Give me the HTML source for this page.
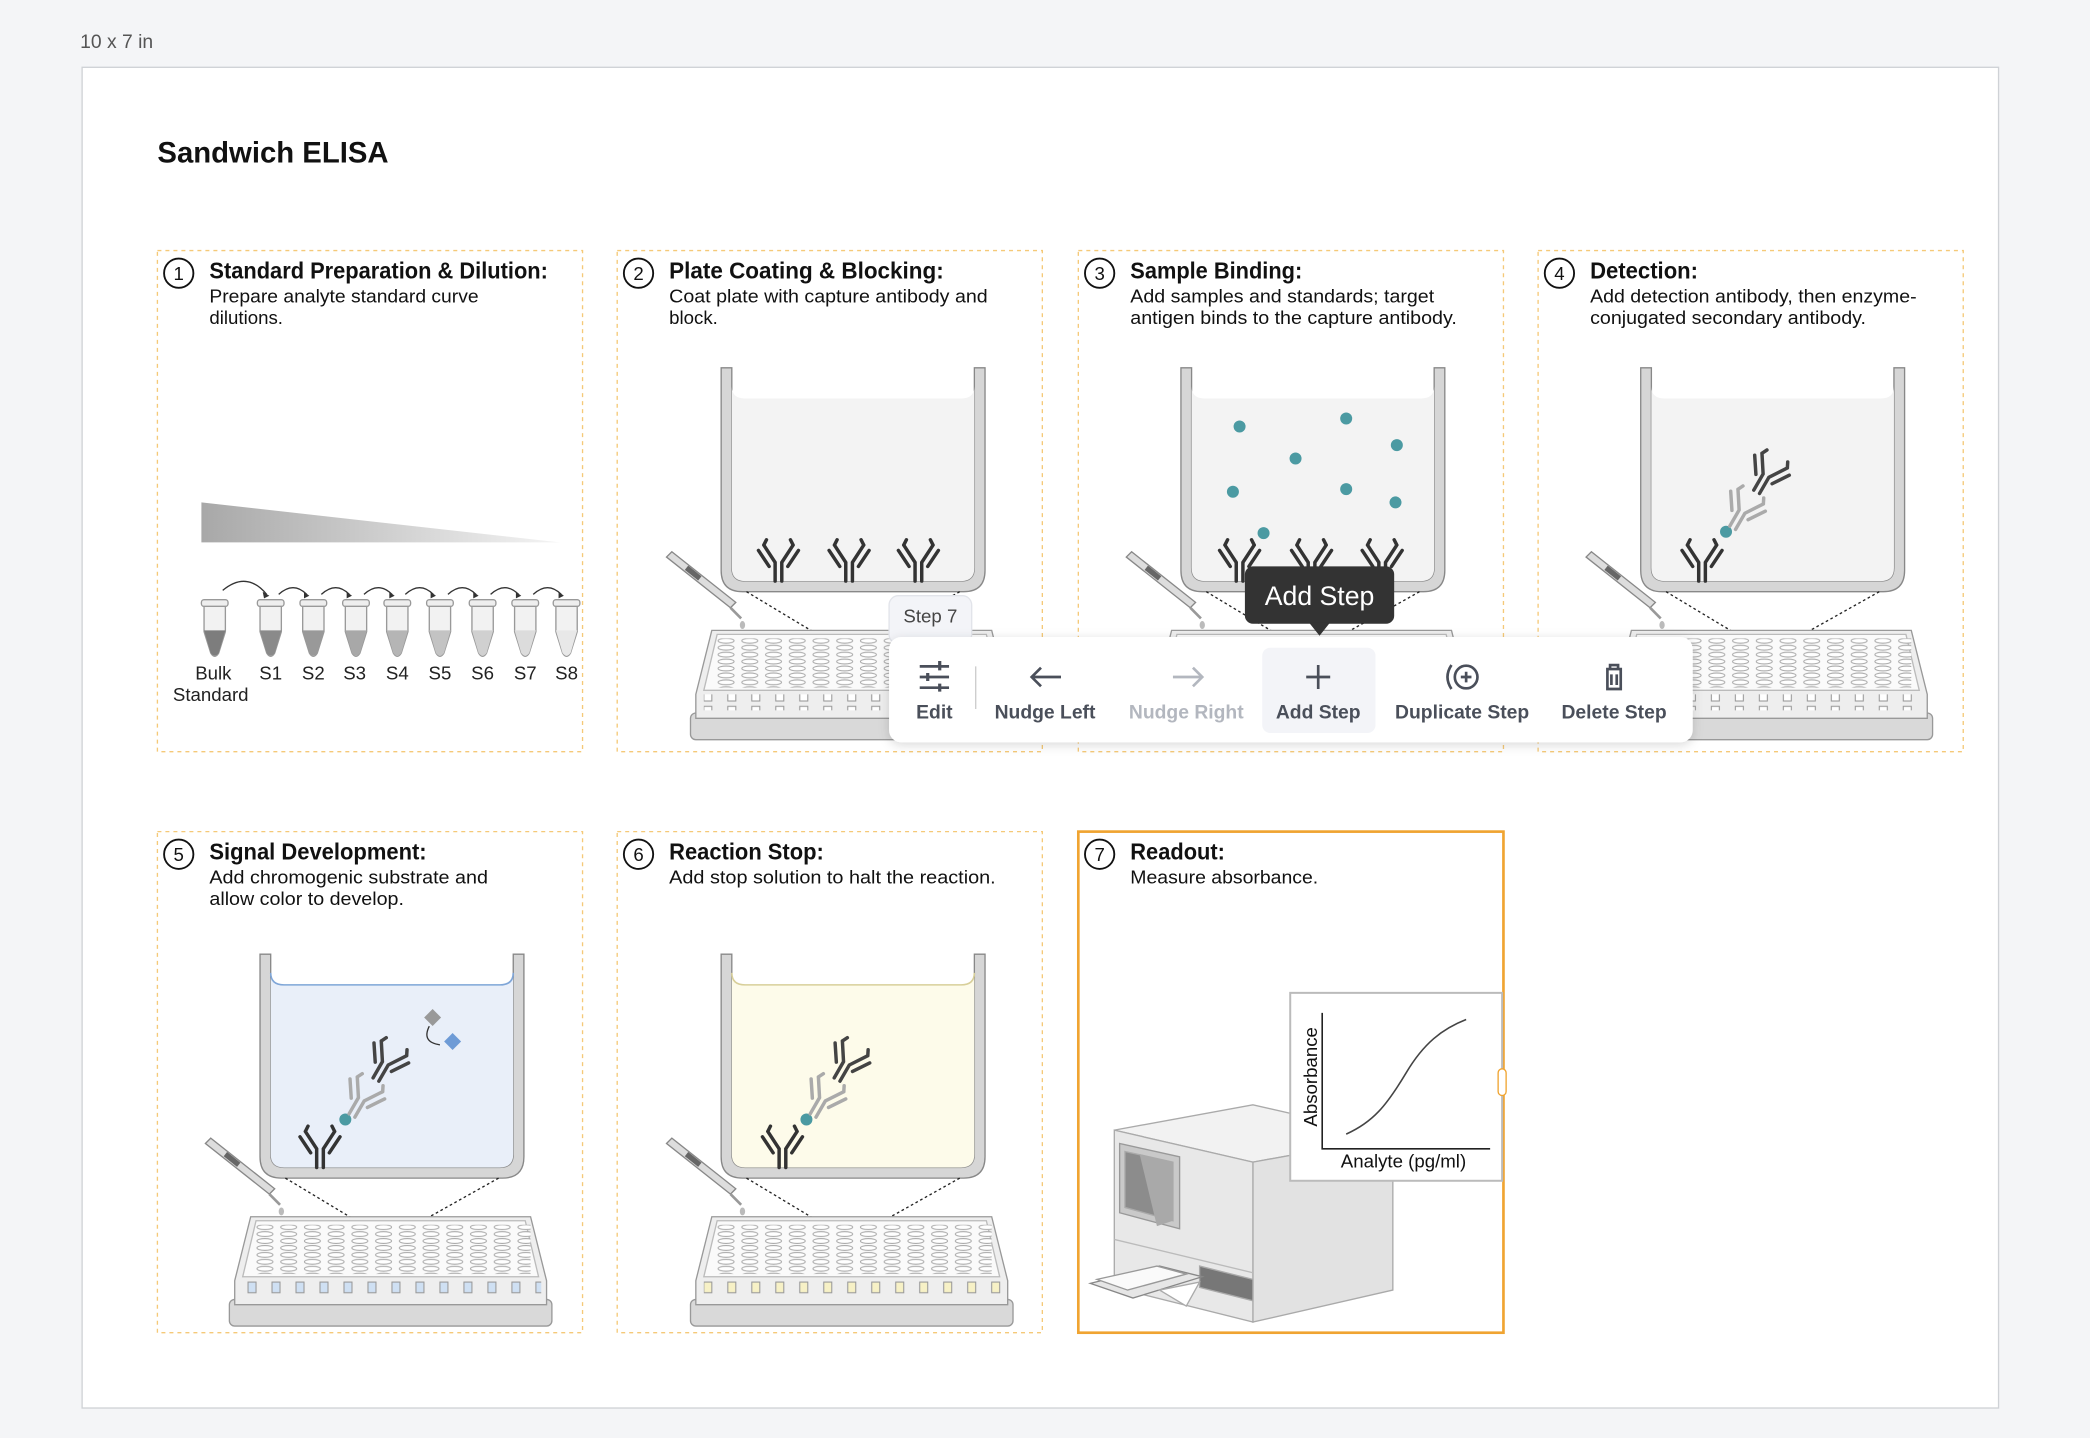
<!DOCTYPE html>
<html><head><meta charset="utf-8"><style>
html,body{margin:0;padding:0;background:#f4f5f7;}
svg{display:block;font-family:"Liberation Sans",sans-serif;}
</style></head><body>
<svg width="2090" height="1438" viewBox="0 0 1568 1079" xmlns="http://www.w3.org/2000/svg">
<defs>
  <pattern id="wells" patternUnits="userSpaceOnUse" x="0" y="0" width="17.8" height="5.2">
    <ellipse cx="8.9" cy="2.6" rx="6" ry="1.8" fill="#fff" stroke="#aaa" stroke-width="0.8"/>
  </pattern>
  <pattern id="sqG" patternUnits="userSpaceOnUse" width="18" height="12"><rect x="6" y="2" width="6" height="8" fill="#fff" stroke="#999" stroke-width="0.8"/></pattern>
  <pattern id="sqB" patternUnits="userSpaceOnUse" width="18" height="12"><rect x="6" y="2" width="6" height="8" fill="#cfe0f3" stroke="#999" stroke-width="0.8"/></pattern>
  <pattern id="sqY" patternUnits="userSpaceOnUse" width="18" height="12"><rect x="6" y="2" width="6" height="8" fill="#f7f1c6" stroke="#999" stroke-width="0.8"/></pattern>
  <linearGradient id="grad" x1="0" x2="1" y1="0" y2="0"><stop offset="0" stop-color="#a8a8a8"/><stop offset="1" stop-color="#f4f4f4"/></linearGradient>
  <symbol id="plate" viewBox="0 0 242 82" overflow="visible">
    <rect x="0" y="62" width="242" height="20" rx="4" fill="#d9d9d9" stroke="#999"/>
    <path d="M16 0 H226 L238 48 V66 H4 V48 Z" fill="#eeeeee" stroke="#999"/>
    <path d="M20 3 H222 L232 45 H10 Z" fill="#fafafa" stroke="#bbb"/>
    <rect x="16" y="6" width="210" height="37" fill="url(#wells)"/>
  </symbol>
  <g id="ab" fill="none" stroke-width="2.6" stroke-linecap="round">
    <path d="M-2.5 0 V-14 L-11 -27 M2.5 0 V-14 L11 -27 M-7 -11 L-15 -23 M7 -11 L15 -23 M-11 -27 L-9 -31 M11 -27 L9 -31"/>
  </g>
  <g id="tube">
    <rect x="-10" y="0" width="20" height="5" rx="2" fill="#eee" stroke="#999"/>
    <path d="M-8 5 V24 L-3 40 Q0 45 3 40 L8 24 V5 Z" fill="#f2f2f2" stroke="#999"/>
  </g>
  <filter id="sh" x="-10%" y="-30%" width="120%" height="160%"><feDropShadow dx="0" dy="2" stdDeviation="4" flood-color="#000" flood-opacity="0.15"/></filter>
</defs>

<text x="60" y="36" font-size="14.5" fill="#555">10 x 7 in</text>
<rect x="61.5" y="50.5" width="1438" height="1006" fill="#fff" stroke="#cfd2d6"/>
<text x="118" y="122" font-size="22" font-weight="bold" fill="#111">Sandwich ELISA</text>

<g fill="none" stroke="#f5c978" stroke-dasharray="3,3" stroke-width="1">
  <rect x="118" y="188" width="319" height="376"/>
  <rect x="463" y="188" width="319" height="376"/>
  <rect x="809" y="188" width="319" height="376"/>
  <rect x="1154" y="188" width="319" height="376"/>
  <rect x="118" y="624" width="319" height="376"/>
  <rect x="463" y="624" width="319" height="376"/>
</g>
<rect x="809" y="624" width="319" height="376" fill="none" stroke="#f0a431" stroke-width="2"/>

<g fill="none" stroke="#111" stroke-width="1.4">
  <circle cx="134" cy="205" r="11"/><circle cx="479" cy="205" r="11"/><circle cx="825" cy="205" r="11"/><circle cx="1170" cy="205" r="11"/>
  <circle cx="134" cy="641" r="11"/><circle cx="479" cy="641" r="11"/><circle cx="825" cy="641" r="11"/>
</g>
<g font-size="14" text-anchor="middle" fill="#111">
  <text x="134" y="210">1</text><text x="479" y="210">2</text><text x="825" y="210">3</text><text x="1170" y="210">4</text>
  <text x="134" y="646">5</text><text x="479" y="646">6</text><text x="825" y="646">7</text>
</g>
<g font-size="17" font-weight="bold" fill="#111">
  <text x="157" y="209" textLength="254" lengthAdjust="spacingAndGlyphs">Standard Preparation &amp; Dilution:</text>
  <text x="502" y="209" textLength="206" lengthAdjust="spacingAndGlyphs">Plate Coating &amp; Blocking:</text>
  <text x="848" y="209" textLength="129" lengthAdjust="spacingAndGlyphs">Sample Binding:</text>
  <text x="1193" y="209" textLength="81" lengthAdjust="spacingAndGlyphs">Detection:</text>
  <text x="157" y="645" textLength="163" lengthAdjust="spacingAndGlyphs">Signal Development:</text>
  <text x="502" y="645" textLength="116" lengthAdjust="spacingAndGlyphs">Reaction Stop:</text>
  <text x="848" y="645" textLength="71" lengthAdjust="spacingAndGlyphs">Readout:</text>
</g>
<g font-size="14" fill="#111">
  <text x="157" y="227" textLength="202" lengthAdjust="spacingAndGlyphs">Prepare analyte standard curve</text><text x="157" y="243">dilutions.</text>
  <text x="502" y="227" textLength="239" lengthAdjust="spacingAndGlyphs">Coat plate with capture antibody and</text><text x="502" y="243">block.</text>
  <text x="848" y="227" textLength="228" lengthAdjust="spacingAndGlyphs">Add samples and standards; target</text><text x="848" y="243" textLength="245" lengthAdjust="spacingAndGlyphs">antigen binds to the capture antibody.</text>
  <text x="1193" y="227" textLength="245" lengthAdjust="spacingAndGlyphs">Add detection antibody, then enzyme-</text><text x="1193" y="243" textLength="207" lengthAdjust="spacingAndGlyphs">conjugated secondary antibody.</text>
  <text x="157" y="663" textLength="209" lengthAdjust="spacingAndGlyphs">Add chromogenic substrate and</text><text x="157" y="679" textLength="146" lengthAdjust="spacingAndGlyphs">allow color to develop.</text>
  <text x="502" y="663" textLength="245" lengthAdjust="spacingAndGlyphs">Add stop solution to halt the reaction.</text>
  <text x="848" y="663" textLength="141" lengthAdjust="spacingAndGlyphs">Measure absorbance.</text>
</g>

<!-- panel 1 -->
<path d="M151 377 L420 407 H151 Z" fill="url(#grad)"/>
<g fill="none" stroke="#333" stroke-width="1">
  <path d="M167 443 Q185 428 200 446"/><path d="M209 446 Q220 436 230 446"/><path d="M241 446 Q252 436 262 446"/><path d="M273 446 Q284 436 294 446"/><path d="M304 446 Q315 436 325 446"/><path d="M336 446 Q347 436 357 446"/><path d="M368 446 Q379 436 389 446"/><path d="M400 446 Q411 436 421 446"/>
</g>
<g fill="#333"><path d="M197 444 l5 3 l-4 2z"/><path d="M228 444 l4 3 l-4 2z"/><path d="M260 444 l4 3 l-4 2z"/><path d="M292 444 l4 3 l-4 2z"/><path d="M323 444 l4 3 l-4 2z"/><path d="M355 444 l4 3 l-4 2z"/><path d="M387 444 l4 3 l-4 2z"/><path d="M419 444 l4 3 l-4 2z"/></g>
<g>
  <use href="#tube" x="161" y="450"/><use href="#tube" x="203" y="450"/><use href="#tube" x="235" y="450"/><use href="#tube" x="267" y="450"/><use href="#tube" x="298" y="450"/><use href="#tube" x="330" y="450"/><use href="#tube" x="362" y="450"/><use href="#tube" x="394" y="450"/><use href="#tube" x="425" y="450"/>
</g>
<g stroke="none">
  <path d="M153 473 H169 L164 490 Q161 494 158 490 Z" fill="#7d7d7d"/>
  <path d="M195 473 H211 L206 490 Q203 494 200 490 Z" fill="#8a8a8a"/>
  <path d="M227 473 H243 L238 490 Q235 494 232 490 Z" fill="#999"/>
  <path d="M259 473 H275 L270 490 Q267 494 264 490 Z" fill="#a8a8a8"/>
  <path d="M290 473 H306 L301 490 Q298 494 295 490 Z" fill="#b5b5b5"/>
  <path d="M322 473 H338 L333 490 Q330 494 327 490 Z" fill="#c3c3c3"/>
  <path d="M354 473 H370 L365 490 Q362 494 359 490 Z" fill="#d0d0d0"/>
  <path d="M386 473 H402 L397 490 Q394 494 391 490 Z" fill="#dcdcdc"/>
  <path d="M417 473 H433 L428 490 Q425 494 422 490 Z" fill="#e8e8e8"/>
</g>
<g font-size="14" fill="#222" text-anchor="middle">
  <text x="160" y="510">Bulk</text><text x="158" y="526">Standard</text>
  <text x="203" y="510">S1</text><text x="235" y="510">S2</text><text x="266" y="510">S3</text><text x="298" y="510">S4</text><text x="330" y="510">S5</text><text x="362" y="510">S6</text><text x="394" y="510">S7</text><text x="425" y="510">S8</text>
</g>

<g transform="translate(541,276)">
  <path d="M0 0 H8 V150 Q8 160 18 160 H180 Q190 160 190 150 V0 H198 V152 Q198 168 182 168 H16 Q0 168 0 152 Z" fill="#d6d6d6" stroke="#888"/>
  <path d="M8 14 Q8 23 18 23 H180 Q190 23 190 14 V150 Q190 160 180 160 H18 Q8 160 8 150 Z" fill="#f3f3f3"/>
</g>
<g transform="translate(886,276)">
  <path d="M0 0 H8 V150 Q8 160 18 160 H180 Q190 160 190 150 V0 H198 V152 Q198 168 182 168 H16 Q0 168 0 152 Z" fill="#d6d6d6" stroke="#888"/>
  <path d="M8 14 Q8 23 18 23 H180 Q190 23 190 14 V150 Q190 160 180 160 H18 Q8 160 8 150 Z" fill="#f3f3f3"/>
</g>
<g transform="translate(1231,276)">
  <path d="M0 0 H8 V150 Q8 160 18 160 H180 Q190 160 190 150 V0 H198 V152 Q198 168 182 168 H16 Q0 168 0 152 Z" fill="#d6d6d6" stroke="#888"/>
  <path d="M8 14 Q8 23 18 23 H180 Q190 23 190 14 V150 Q190 160 180 160 H18 Q8 160 8 150 Z" fill="#f3f3f3"/>
</g>
<g transform="translate(195,716)">
  <path d="M0 0 H8 V150 Q8 160 18 160 H180 Q190 160 190 150 V0 H198 V152 Q198 168 182 168 H16 Q0 168 0 152 Z" fill="#d6d6d6" stroke="#888"/>
  <path d="M8 14 Q8 23 18 23 H180 Q190 23 190 14 V150 Q190 160 180 160 H18 Q8 160 8 150 Z" fill="#e9eff9"/>
  <path d="M8 14 Q8 23 18 23 H180 Q190 23 190 14" fill="none" stroke="#7fa6d8" stroke-width="1.2"/>
</g>
<g transform="translate(541,716)">
  <path d="M0 0 H8 V150 Q8 160 18 160 H180 Q190 160 190 150 V0 H198 V152 Q198 168 182 168 H16 Q0 168 0 152 Z" fill="#d6d6d6" stroke="#888"/>
  <path d="M8 14 Q8 23 18 23 H180 Q190 23 190 14 V150 Q190 160 180 160 H18 Q8 160 8 150 Z" fill="#fdfbea"/>
  <path d="M8 14 Q8 23 18 23 H180 Q190 23 190 14" fill="none" stroke="#d8cf9a" stroke-width="1.2"/>
</g>

<g stroke="#222" stroke-dasharray="2,2" stroke-width="1" fill="none">
  <path d="M560 444 L630 486 M720 444 L645 486"/>
  <path d="M905 444 L975 486 M1065 444 L990 486"/>
  <path d="M1250 444 L1320 486 M1410 444 L1335 486"/>
  <path d="M214 884 L284 926 M374 884 L299 926"/>
  <path d="M560 884 L630 926 M720 884 L645 926"/>
</g>

<use href="#plate" x="518" y="473" width="242" height="82"/>
<rect x="528" y="521" width="224" height="12" fill="url(#sqG)"/>
<use href="#plate" x="863" y="473" width="242" height="82"/>
<use href="#plate" x="1208" y="473" width="242" height="82"/>
<rect x="1218" y="521" width="224" height="12" fill="url(#sqG)"/>
<use href="#plate" x="172" y="913" width="242" height="82"/>
<rect x="182" y="961" width="224" height="12" fill="url(#sqB)"/>
<use href="#plate" x="518" y="913" width="242" height="82"/>
<rect x="528" y="961" width="224" height="12" fill="url(#sqY)"/>

<g id="pip" stroke="#888" stroke-width="1">
  <path d="M500 418 L548 456 L552 452 L504 414 Z" fill="#ddd"/>
  <path d="M515 426 L525 434" stroke="#666" stroke-width="4"/>
  <path d="M548 456 L556 464" stroke="#999" stroke-width="2"/>
  <ellipse cx="557" cy="469" rx="2" ry="3" fill="#bbb" stroke="none"/>
</g>
<use href="#pip" x="345" y="0"/>
<use href="#pip" x="690" y="0"/>
<use href="#pip" x="-346" y="440"/>
<use href="#pip" x="0" y="440"/>

<g stroke="#333">
  <use href="#ab" x="584" y="436"/><use href="#ab" x="637" y="436"/><use href="#ab" x="689" y="436"/>
  <use href="#ab" x="930" y="436"/><use href="#ab" x="984" y="436"/><use href="#ab" x="1037" y="436"/>
</g>
<g fill="#4b9aa2">
  <circle cx="930" cy="320" r="4.5"/><circle cx="1010" cy="314" r="4.5"/><circle cx="1048" cy="334" r="4.5"/><circle cx="972" cy="344" r="4.5"/><circle cx="925" cy="369" r="4.5"/><circle cx="1010" cy="367" r="4.5"/><circle cx="1047" cy="377" r="4.5"/><circle cx="948" cy="400" r="4.5"/>
</g>

<!-- complex panel 4 -->
<g>
  <use href="#ab" x="1277" y="436" stroke="#333"/>
  <circle cx="1295" cy="399" r="4.5" fill="#4b9aa2"/>
  <g transform="translate(1300,396) rotate(30)"><use href="#ab" stroke="#aaa"/></g>
  <g transform="translate(1318,369) rotate(30)"><use href="#ab" stroke="#444"/></g>
</g>
<!-- complex panel 5 -->
<g>
  <use href="#ab" x="240" y="876" stroke="#333"/>
  <circle cx="259" cy="840" r="4.5" fill="#4b9aa2"/>
  <g transform="translate(264,837) rotate(30)"><use href="#ab" stroke="#aaa"/></g>
  <g transform="translate(282,810) rotate(30)"><use href="#ab" stroke="#444"/></g>
  <rect x="320" y="759" width="9" height="9" fill="#999" transform="rotate(45 324.5 763.5)"/>
  <rect x="335" y="777" width="9" height="9" fill="#6e9bd6" transform="rotate(45 339.5 781.5)"/>
  <path d="M322 770 Q316 782 330 784" fill="none" stroke="#333"/>
</g>
<!-- complex panel 6 -->
<g>
  <use href="#ab" x="587" y="876" stroke="#333"/>
  <circle cx="605" cy="840" r="4.5" fill="#4b9aa2"/>
  <g transform="translate(610,837) rotate(30)"><use href="#ab" stroke="#aaa"/></g>
  <g transform="translate(628,810) rotate(30)"><use href="#ab" stroke="#444"/></g>
</g>

<!-- panel 7 instrument -->
<g stroke="#aaa" stroke-width="1">
  <path d="M836 848 L940 829 L1045 853 L940 872 Z" fill="#f2f2f2"/>
  <path d="M940 872 L1045 853 L1045 968 L940 992 Z" fill="#e2e2e2"/>
  <path d="M836 848 L940 872 L940 992 L836 966 Z" fill="#e8e8e8"/>
  <path d="M840 858 L885 868 L885 922 L840 910 Z" fill="#c9c9c9" stroke="#999"/>
  <path d="M844 864 L880 872 L880 916 L844 906 Z" fill="#8c8c8c"/>
  <path d="M855 866 L868 920 L880 916 L880 872 Z" fill="#a9a9a9" stroke="none"/>
  <path d="M836 930 L940 955" stroke="#bbb"/>
  <path d="M900 950 L940 960 L940 976 L900 966 Z" fill="#777"/>
  <path d="M818 963 L870 950 L902 958 L850 974 Z" fill="#e6e6e6" stroke="#888"/>
  <path d="M823 960 L868 950 L890 956 L846 968 Z" fill="#fafafa" stroke="#999"/>
  <path d="M870 968 L900 962 L890 980 Z" fill="#fff"/>
</g>
<rect x="968" y="745" width="159" height="141" fill="#fff" stroke="#bbb" stroke-width="1.5"/>
<path d="M992 760 V862 H1118" fill="none" stroke="#222" stroke-width="1.2"/>
<path d="M1010 851 C1030 842 1040 830 1055 805 C1068 783 1082 772 1100 765" fill="none" stroke="#444" stroke-width="1.2"/>
<text transform="translate(988,808) rotate(-90)" font-size="14" text-anchor="middle" fill="#111">Absorbance</text>
<text x="1053" y="876" font-size="14" text-anchor="middle" fill="#111">Analyte (pg/ml)</text>
<rect x="1124" y="802" width="6" height="20" rx="3" fill="#fff" stroke="#f0a431"/>

<!-- toolbar -->
<rect x="667" y="447" width="62" height="36" rx="7" fill="#f3f4f8" stroke="#e2e4ea"/>
<text x="698" y="467" font-size="14" text-anchor="middle" fill="#444">Step 7</text>
<rect x="667" y="478" width="603" height="79" rx="9" fill="#fff" filter="url(#sh)"/>
<rect x="947" y="486" width="85" height="64" rx="6" fill="#f3f4f8"/>
<line x1="732" y1="500" x2="732" y2="532" stroke="#ccc"/>
<g stroke="#4a4f5a" stroke-width="2" fill="none">
  <path d="M690 500 H712 M690 508 H712 M690 516 H712"/>
  <path d="M705 496 V503 M696 505 V511 M705 513 V519" stroke-width="2.4"/>
  <path d="M774 508 H796 M781 501 L774 508 L781 515"/>
  <path d="M880 508 H902 M895 501 L902 508 L895 515" stroke="#b3b7bf"/>
  <path d="M989 499 V517 M980 508 H998"/>
  <circle cx="1100" cy="508" r="8.5"/><path d="M1100 504 V512 M1096 508 H1104"/>
  <path d="M1089 499 Q1083 508 1089 517"/>
  <path d="M1205 502 H1217 M1208 502 V499 H1214 V502 M1206 503 V517 H1216 V503 M1209 506 V514 M1213 506 V514"/>
</g>
<g font-size="14.5" font-weight="bold" fill="#4a4f5a" text-anchor="middle">
  <text x="701" y="539">Edit</text>
  <text x="784" y="539">Nudge Left</text>
  <text x="890" y="539" fill="#b3b7bf">Nudge Right</text>
  <text x="989" y="539">Add Step</text>
  <text x="1097" y="539">Duplicate Step</text>
  <text x="1211" y="539">Delete Step</text>
</g>
<rect x="934" y="425" width="112" height="43" rx="6" fill="#333"/>
<path d="M982 467 L990 477 L998 467 Z" fill="#333"/>
<text x="990" y="454" font-size="20" text-anchor="middle" fill="#fff">Add Step</text>
</svg>
</body></html>
